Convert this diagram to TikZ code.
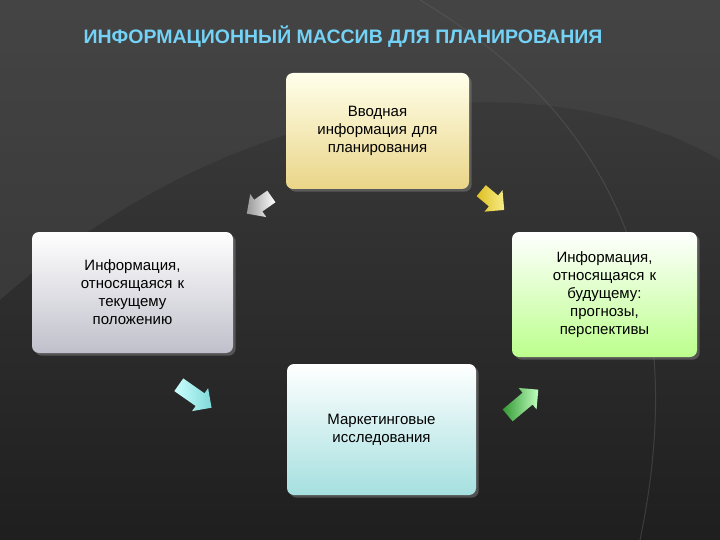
\documentclass[tikz,border=0pt]{standalone}
\usepackage{fontspec}
\setmainfont{Liberation Sans}
\usetikzlibrary{shapes.arrows,shadows}
\begin{document}
\begin{tikzpicture}[x=1pt,y=-1pt,
  box/.style={rounded corners=7pt,draw=none,align=center,text=black,font=\fontsize{15}{18}\selectfont,drop shadow={opacity=0.5}},
  barrow/.style={single arrow,minimum height=40pt,minimum width=28pt,single arrow head extend=5pt,inner sep=6pt,draw=none}]
\useasboundingbox (0,0) rectangle (720,540);
\shade[top color=black!75,bottom color=black!88] (0,0) rectangle (720,540);
\fill[black!70,opacity=0.4] (0,300) .. controls (250,80) and (550,60) .. (720,160) -- (720,0) -- (0,0) -- cycle;
\draw[black!60,line width=1pt,opacity=0.4] (420,0) .. controls (620,120) and (690,300) .. (640,540);
\node[font=\bfseries\fontsize{19.5}{22}\selectfont,text=cyan!55!white] (title) at (343,37) {ИНФОРМАЦИОННЫЙ МАССИВ ДЛЯ ПЛАНИРОВАНИЯ};
\node[box,top color=white!92!yellow,bottom color=brown!60!yellow!55!white,minimum width=183pt,minimum height=116pt,text width=160pt] (top) at (377.5,131) {Вводная\\информация для\\планирования};
\node[box,top color=white,bottom color=blue!10!gray!45,minimum width=201pt,minimum height=121pt,text width=175pt] (left) at (132.5,292.5) {Информация,\\относящаяся к\\текущему\\положению};
\node[box,top color=white,bottom color=green!45!lime!45,minimum width=185pt,minimum height=125pt,text width=160pt] (right) at (604.5,294.5) {Информация,\\относящаяся к\\будущему:\\прогнозы,\\перспективы};
\node[box,top color=white,bottom color=cyan!30!teal!35,minimum width=189pt,minimum height=131pt,text width=170pt] (bottom) at (381.5,429.5) {Маркетинговые\\исследования};
\node[barrow,left color=black!40,right color=white,rotate=-145,minimum height=30pt,inner sep=5pt] (a1) at (262,203) {};
\node[barrow,left color=yellow!50!brown,right color=brown!30!yellow!50,rotate=-40,minimum height=30pt,inner sep=5pt] (a2) at (490,198) {};
\node[barrow,left color=cyan!20,right color=cyan!40!teal!50,rotate=-35] (a3) at (192,394) {};
\node[barrow,left color=green!50!black!80,right color=green!25,rotate=40] (a4) at (520,405) {};
\end{tikzpicture}
\end{document}
